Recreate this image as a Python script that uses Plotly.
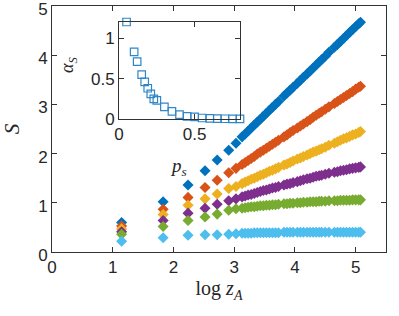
import plotly.graph_objects as go

# ---- main data: S vs log z_A ----
log_zA = [1.146, 1.83, 2.24, 2.52, 2.72, 2.91, 3.03,
          3.13, 3.18, 3.23, 3.28, 3.33, 3.38, 3.43, 3.48, 3.53, 3.58, 3.63, 3.68, 3.73,
          3.82, 3.87, 3.92, 3.97, 4.04, 4.09, 4.14, 4.20, 4.25, 4.30, 4.35, 4.40, 4.44,
          4.50, 4.56,
          4.65, 4.70, 4.75, 4.80, 4.85, 4.90, 4.95, 5.00, 5.05, 5.08]

S_blue = [0.60, 1.02, 1.36, 1.65, 1.87, 2.07, 2.21,
          2.34, 2.40, 2.46, 2.52, 2.58, 2.64, 2.70, 2.76, 2.82, 2.88, 2.94, 3.00, 3.06,
          3.17, 3.23, 3.29, 3.35, 3.43, 3.49, 3.55, 3.62, 3.68, 3.74, 3.80, 3.86, 3.91,
          3.98, 4.06,
          4.16, 4.22, 4.28, 4.34, 4.40, 4.46, 4.52, 4.58, 4.64, 4.67]
S_orange = [0.53, 0.87, 1.11, 1.31, 1.46, 1.61, 1.70,
            1.78, 1.82, 1.86, 1.90, 1.94, 1.99, 2.03, 2.07, 2.11, 2.15, 2.19, 2.23, 2.27,
            2.34, 2.38, 2.43, 2.47, 2.52, 2.56, 2.60, 2.65, 2.69, 2.74, 2.78, 2.82, 2.85,
            2.90, 2.95,
            3.02, 3.06, 3.10, 3.14, 3.18, 3.22, 3.26, 3.31, 3.35, 3.37]
S_yellow = [0.47, 0.76, 0.95, 1.08, 1.18, 1.29, 1.33,
            1.39, 1.42, 1.45, 1.48, 1.50, 1.53, 1.56, 1.58, 1.61, 1.64, 1.66, 1.69, 1.72,
            1.77, 1.79, 1.82, 1.85, 1.89, 1.91, 1.94, 1.97, 2.00, 2.03, 2.05, 2.08, 2.10,
            2.13, 2.17,
            2.21, 2.24, 2.27, 2.30, 2.32, 2.35, 2.38, 2.40, 2.43, 2.45]
S_purple = [0.41, 0.64, 0.79, 0.89, 0.97, 1.04, 1.08,
            1.12, 1.14, 1.16, 1.17, 1.19, 1.21, 1.23, 1.25, 1.26, 1.28, 1.30, 1.31, 1.33,
            1.36, 1.38, 1.39, 1.41, 1.43, 1.45, 1.47, 1.49, 1.50, 1.52, 1.54, 1.55, 1.56,
            1.58, 1.60,
            1.62, 1.63, 1.65, 1.66, 1.67, 1.69, 1.70, 1.71, 1.72, 1.73]
S_green = [0.36, 0.52, 0.64, 0.71, 0.77, 0.85, 0.88,
           0.89, 0.90, 0.91, 0.92, 0.92, 0.93, 0.94, 0.94, 0.95, 0.95, 0.96, 0.96, 0.97,
           0.98, 0.98, 0.99, 0.99, 1.00, 1.00, 1.01, 1.01, 1.02, 1.02, 1.02, 1.03, 1.03,
           1.03, 1.04,
           1.04, 1.04, 1.05, 1.05, 1.05, 1.05, 1.06, 1.06, 1.06, 1.06]
S_cyan = [0.22, 0.29, 0.34, 0.35, 0.35, 0.36, 0.37,
          0.38, 0.38, 0.38, 0.38, 0.39, 0.39, 0.39, 0.39, 0.39, 0.39, 0.39, 0.39, 0.39,
          0.40, 0.40, 0.40, 0.40, 0.40, 0.40, 0.40, 0.40, 0.40, 0.40, 0.40, 0.40, 0.40,
          0.40, 0.40,
          0.40, 0.40, 0.40, 0.40, 0.40, 0.40, 0.40, 0.40, 0.40, 0.40]

series = [S_blue, S_orange, S_yellow, S_purple, S_green, S_cyan]
colors = ["#0072BD", "#D95319", "#EDB120", "#7E2F8E", "#77AC30", "#4DBEEE"]

# ---- inset data: alpha_S vs p_s ----
p_s = [0.05, 0.10, 0.12, 0.15, 0.17, 0.19, 0.21, 0.23, 0.25, 0.30,
       0.35, 0.40, 0.45, 0.50, 0.55, 0.60, 0.65, 0.70, 0.75, 0.80]
alpha_S = [1.20, 0.83, 0.71, 0.55, 0.46, 0.38, 0.31, 0.25, 0.23, 0.15,
           0.095, 0.053, 0.033, 0.025, 0.012, 0.008, 0.004, 0.003, 0.002, 0.002]

main_ticks = [0, 1, 2, 3, 4, 5]

fig = go.Figure()
for ys, c in zip(series, colors):
    fig.add_trace(go.Scatter(
        x=log_zA, y=ys, mode="markers",
        marker=dict(symbol="diamond", size=8.5, color=c, line=dict(width=0)),
        xaxis="x", yaxis="y", showlegend=False))

fig.add_trace(go.Scatter(
    x=p_s, y=alpha_S, mode="markers",
    marker=dict(symbol="square-open", size=7.5, color="#2f87c8", line=dict(width=1.2)),
    xaxis="x2", yaxis="y2", showlegend=False, cliponaxis=False))

axcol = "#333333"
font_ticks = dict(family="Liberation Sans, Arial, sans-serif", size=17, color="#262626")
common = dict(showgrid=False, zeroline=False, showline=True, linecolor=axcol, linewidth=1,
              mirror="ticks", ticks="inside", ticklen=5, tickcolor=axcol, tickwidth=1,
              tickfont=font_ticks, automargin=False, ticklabeloverflow="allow")

fig.update_layout(
    width=399, height=316,
    margin=dict(l=52, r=13, t=6, b=64),
    paper_bgcolor="white", plot_bgcolor="white",
    xaxis=dict(range=[0, 5.5], tickvals=main_ticks, domain=[0, 1], anchor="y",
               title=dict(text="log <i>z</i><sub><i>A</i></sub>",
                          font=dict(family="Liberation Serif, serif", size=20, color="#262626"),
                          standoff=4),
               **common),
    yaxis=dict(range=[0, 5], tickvals=main_ticks, domain=[0, 1], anchor="x",
               ticklabelshift=3,
               title=dict(text="<i>S</i>",
                          font=dict(family="Liberation Serif, serif", size=21, color="#262626"),
                          standoff=14),
               **common),
    xaxis2=dict(range=[0, 0.8], tickvals=[0, 0.5], ticktext=["0", "0.5"],
                domain=[0.2006, 0.5629], anchor="y2", **common),
    yaxis2=dict(range=[0, 1.2], tickvals=[0, 0.5, 1], ticktext=["0", "0.5", "1"],
                domain=[0.5407, 0.935], anchor="x2", **common),
    annotations=[
        dict(text="<i>p</i><sub><i>s</i></sub>", x=0.379, y=0.345, xref="paper", yref="paper",
             xanchor="center", yanchor="middle",
             showarrow=False, font=dict(family="Liberation Serif, serif", size=19, color="#262626")),
        dict(text="<i>α</i><sub><i>S</i></sub>", x=0.048, y=0.76, xref="paper", yref="paper",
             xanchor="center", yanchor="middle",
             textangle=-90, showarrow=False,
             font=dict(family="Liberation Serif, serif", size=18, color="#262626")),
    ],
)

fig.write_html("out.html", config={"displayModeBar": False},
               post_script="document.body.style.margin='0';")
